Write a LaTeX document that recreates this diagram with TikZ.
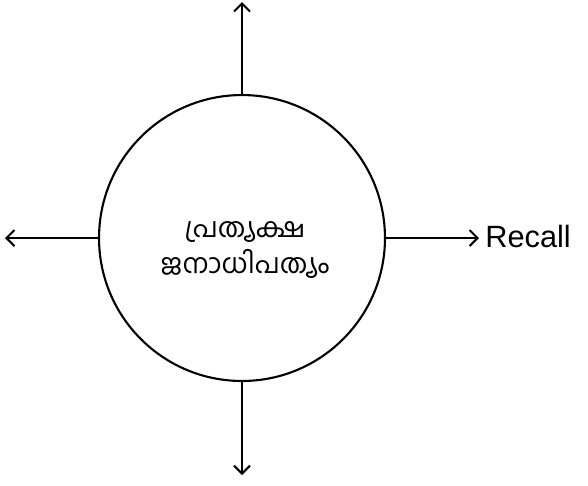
\documentclass[tikz,border=0pt]{standalone}
\usepackage{fontspec}
\setmainfont{Liberation Sans}
\newfontfamily\malfont[Script=Malayalam]{Hind Kochi}
\usetikzlibrary{arrows.meta}
\tikzset{
  bigcirc/.style={ draw, circle, line width=1.2pt, minimum size=5.72cm, inner sep=0pt, outer sep=0pt }
}
\tikzset{
  arr/.style={ line width=1.2pt, -{Straight Barb[length=1.6mm, width=3.2mm, line width=1.2pt]} }
}

\begin{document}
\begin{tikzpicture}[x=0.02cm, y=-0.02cm]
      \useasboundingbox (0,0) rectangle (588,485);

      \node[bigcirc] (d) at (242, 238) {};
      \node[font=\malfont\fontsize{15.5}{21}\selectfont, align=center] (lbl) at (245, 250)
        {പ്രത്യക്ഷ\\ജനാധിപത്യം};

      \coordinate (up) at (242, 2);
      \coordinate (down) at (242, 475);
      \coordinate (left) at (5, 238);
      \node[font=\fontsize{17.5}{20}\selectfont, anchor=west, inner sep=0pt] (rc) at (485, 236) {Recall};

      \draw[arr] (d.north) -- (up);
      \draw[arr] (d.south) -- (down);
      \draw[arr] (d.west) -- (left);
      \draw[arr, shorten >=6*0.02cm] (d.east) -- (d.east -| rc.west);
    \end{tikzpicture}
\end{document}
